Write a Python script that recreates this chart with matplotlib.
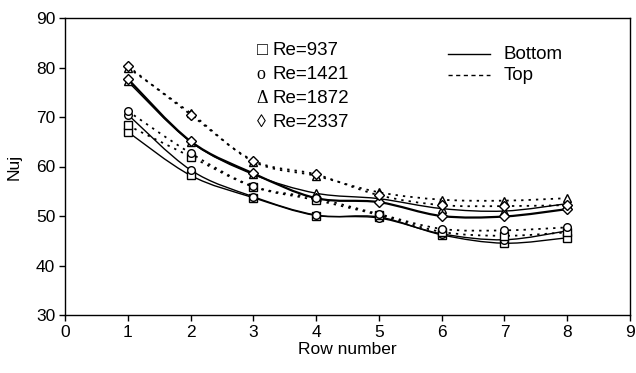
import matplotlib
matplotlib.use("Agg")
import matplotlib.pyplot as plt
from matplotlib.path import Path
from matplotlib.patches import PathPatch
import numpy as np

plt.rcParams['font.family'] = ['Liberation Sans', 'DejaVu Sans']

rows = [1, 2, 3, 4, 5, 6, 7, 8]

# Nuj per row, bottom (solid) and top (dashed)
re937_bottom = [67.0, 58.2, 53.7, 50.1, 49.8, 46.2, 44.5, 45.6]
re937_top = [68.3, 62.0, 55.9, 53.2, 50.2, 46.8, 46.0, 46.7]
re1421_bottom = [70.5, 59.3, 53.9, 50.2, 49.6, 46.4, 45.2, 47.0]
re1421_top = [71.2, 62.7, 56.0, 53.6, 50.4, 47.4, 47.1, 47.7]
re1872_bottom = [77.2, 65.0, 58.4, 54.6, 53.5, 51.5, 51.0, 52.5]
re1872_top = [80.0, 70.8, 61.0, 58.1, 54.8, 53.3, 53.1, 53.6]
re2337_bottom = [77.7, 65.1, 58.6, 53.6, 52.8, 50.0, 49.9, 51.4]
re2337_top = [80.3, 70.5, 61.2, 58.4, 54.2, 52.2, 52.0, 52.2]

legend_symbols = ['\u25a1', 'o', '\u0394', '\u25ca']
legend_labels = ['Re=937', 'Re=1421', 'Re=1872', 'Re=2337']


def smooth_path(x, y):
    # Excel-style smoothed line as cubic bezier segments
    pts = np.column_stack([x, y]).astype(float)
    n = len(pts)
    verts = [pts[0]]
    codes = [Path.MOVETO]
    for i in range(n - 1):
        p0 = pts[i - 1] if i > 0 else pts[i]
        p1 = pts[i]
        p2 = pts[i + 1]
        p3 = pts[i + 2] if i + 2 < n else pts[i + 1]
        c1 = p1 + (p2 - p0) / 6.0
        c2 = p2 - (p3 - p1) / 6.0
        verts += [c1, c2, p2]
        codes += [Path.CURVE4] * 3
    return Path(verts, codes)


fig = plt.figure(figsize=(6.36, 3.73), dpi=100)
ax = fig.add_axes([65 / 636, 1 - 315 / 373, 565 / 636, 297 / 373])

dots = (0, (1.3, 2.8))
series = [
    (re937_bottom, 's', '-', 1.0),
    (re1421_bottom, 'o', '-', 1.0),
    (re1872_bottom, '^', '-', 1.0),
    (re2337_bottom, 'D', '-', 1.6),
    (re937_top, 's', dots, 1.3),
    (re1421_top, 'o', dots, 1.3),
    (re1872_top, '^', dots, 1.3),
    (re2337_top, 'D', dots, 1.3),
]

for vals, mk, ls, lw in series:
    ax.add_patch(PathPatch(smooth_path(rows, vals), facecolor='none',
                           edgecolor='black', linestyle=ls, linewidth=lw, zorder=2))
for vals, mk, ls, lw in series:
    ms = {'s': 5.5, 'o': 5.5, '^': 6.0, 'D': 4.8}[mk]
    ax.plot(rows, vals, linestyle='none', marker=mk, markersize=ms,
            markerfacecolor='white', markeredgecolor='black',
            markeredgewidth=1.0, zorder=3)

ax.set_xlim(0, 9)
ax.set_ylim(30, 90)
ax.set_xticks(range(0, 10))
ax.set_yticks(range(30, 91, 10))
ax.tick_params(direction='out', length=4, width=1, labelsize=12.5, pad=3)
for s in ax.spines.values():
    s.set_linewidth(1.0)
ax.set_xlabel('Row number', fontsize=12.5, labelpad=2)
ax.set_ylabel('Nuj', fontsize=12.5, labelpad=10)

# marker legend
for i, (sym, lab) in enumerate(zip(legend_symbols, legend_labels)):
    y = 83.5 - i * 4.9
    ax.text(3.05, y, sym, fontsize=13, va='center', ha='left',
            family=['Liberation Serif', 'DejaVu Serif'])
    ax.text(3.3, y, lab, fontsize=13.5, va='center', ha='left')

# line legend
ax.plot([6.1, 6.77], [82.7, 82.7], color='black', lw=1.0)
ax.plot([6.1, 6.77], [78.4, 78.4], color='black', lw=1.0, linestyle=(0, (3, 2.5)))
ax.text(6.98, 82.7, 'Bottom', fontsize=13.5, va='center', ha='left')
ax.text(6.98, 78.4, 'Top', fontsize=13.5, va='center', ha='left')

fig.savefig('out.png', dpi=100)
